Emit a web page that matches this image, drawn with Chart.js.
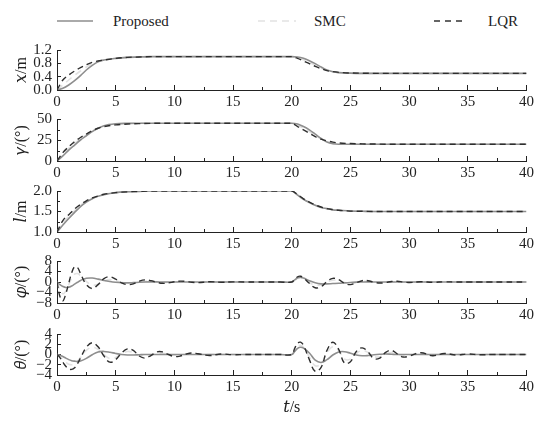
<!DOCTYPE html>
<html>
<head>
<meta charset="utf-8">
<script src="https://cdn.jsdelivr.net/npm/chart.js@4.4.0/dist/chart.umd.min.js"></script>
<style>
  html, body { margin: 0; padding: 0; background: #fff; }
  #wrap { position: relative; width: 542px; height: 428px; overflow: hidden;
          font-family: 'Liberation Serif', 'DejaVu Serif', serif; color: #222; }
  .panel { position: absolute; left: 0; width: 542px; }
  .lg { position: absolute; top: 12px; font-size: 15px; line-height: 18px; }
</style>
</head>
<body>
<div id="wrap">
  <svg width="542" height="40" style="position:absolute;left:0;top:0">
    <line x1="57" y1="21" x2="93" y2="21" stroke="#8e8e8e" stroke-width="1.6"/>
    <line x1="258" y1="21" x2="296" y2="21" stroke="#e2e2e2" stroke-width="1.6" stroke-dasharray="7 5"/>
    <line x1="434" y1="21" x2="462" y2="21" stroke="#333" stroke-width="1.4" stroke-dasharray="6 5"/>
  </svg>
  <span class="lg" style="left:113px">Proposed</span>
  <span class="lg" style="left:314px">SMC</span>
  <span class="lg" style="left:488px">LQR</span>
  <div class="panel" id="d1"><canvas id="c1"></canvas></div>
  <div class="panel" id="d2"><canvas id="c2"></canvas></div>
  <div class="panel" id="d3"><canvas id="c3"></canvas></div>
  <div class="panel" id="d4"><canvas id="c4"></canvas></div>
  <div class="panel" id="d5"><canvas id="c5"></canvas></div>
</div>
<script>
// time samples for the smooth responses (x, gamma, l)
const tSmooth = [0, 0.5, 1, 1.5, 2, 2.5, 3, 3.5, 4, 5, 6, 7, 8, 10, 15, 20,
  20.5, 21, 21.5, 22, 22.5, 23, 23.5, 24, 25, 26, 27, 28, 30, 35, 40];

const xProposed = [0, 0.05, 0.15, 0.28, 0.43, 0.6, 0.74, 0.85, 0.9, 0.95, 0.98, 0.99, 1, 1, 1, 1,
  0.99, 0.95, 0.88, 0.79, 0.69, 0.6, 0.55, 0.52, 0.505, 0.5, 0.5, 0.5, 0.5, 0.5, 0.5];
const xSMC = [0, 0.15, 0.3, 0.44, 0.57, 0.69, 0.79, 0.86, 0.9, 0.95, 0.98, 0.99, 1, 1, 1, 1,
  0.97, 0.91, 0.83, 0.74, 0.66, 0.59, 0.55, 0.52, 0.505, 0.5, 0.5, 0.5, 0.5, 0.5, 0.5];
const xLQR = [0, 0.3, 0.45, 0.57, 0.67, 0.76, 0.83, 0.87, 0.9, 0.95, 0.98, 0.99, 1, 1, 1, 1,
  0.95, 0.87, 0.79, 0.71, 0.64, 0.58, 0.55, 0.53, 0.51, 0.505, 0.5, 0.5, 0.5, 0.5, 0.5];

const gProposed = [0, 6, 13, 19, 25, 30, 35, 39, 42, 44.3, 44.8, 45, 45, 45, 45, 45,
  44, 41, 37, 32, 27, 22.5, 20.5, 20, 20, 20, 20, 20, 20, 20, 20];
const gSMC = [0, 8, 15, 21, 26.5, 31, 35.5, 39, 41.5, 43.8, 44.6, 45, 45, 45, 45, 45,
  42.5, 39, 35, 30.5, 26.5, 23, 21, 20.3, 20.1, 20, 20, 20, 20, 20, 20];
const gLQR = [0, 10, 17, 23, 28, 32, 36, 39, 41, 43, 44, 44.5, 44.8, 45, 45, 45,
  41, 37, 33, 29, 26, 24, 22.5, 21.5, 20.8, 20.4, 20.2, 20, 20, 20, 20];

const lProposed = [1, 1.17, 1.33, 1.48, 1.62, 1.73, 1.81, 1.87, 1.91, 1.96, 1.98, 1.99, 2, 2, 2, 2,
  1.9, 1.8, 1.72, 1.65, 1.6, 1.57, 1.54, 1.53, 1.51, 1.505, 1.5, 1.5, 1.5, 1.5, 1.5];
const lSMC = [1, 1.22, 1.38, 1.52, 1.65, 1.75, 1.82, 1.88, 1.92, 1.96, 1.98, 1.99, 2, 2, 2, 2,
  1.9, 1.8, 1.72, 1.65, 1.6, 1.57, 1.54, 1.53, 1.51, 1.505, 1.5, 1.5, 1.5, 1.5, 1.5];
const lLQR = [1, 1.28, 1.42, 1.56, 1.67, 1.76, 1.83, 1.88, 1.92, 1.96, 1.98, 1.99, 2, 2, 2, 2,
  1.91, 1.81, 1.73, 1.66, 1.61, 1.57, 1.55, 1.53, 1.51, 1.505, 1.5, 1.5, 1.5, 1.5, 1.5];

// time samples for the swing angles (phi, theta)
const tOsc = [0, 0.25, 0.5, 0.75, 1, 1.25, 1.5, 1.75, 2,
  2.5, 3, 3.5, 4, 4.5, 5, 5.5, 6, 6.5, 7, 7.5, 8, 8.5, 9, 9.5, 10, 10.5, 11, 11.5, 12,
  13, 14, 15, 16, 17, 18, 19, 20,
  20.25, 20.5, 20.75, 21,
  21.5, 22, 22.5, 23, 23.5, 24, 24.5, 25, 25.5, 26, 26.5, 27, 27.5, 28, 28.5, 29, 29.5, 30,
  31, 32, 33, 34, 35, 36, 37, 38, 39, 40];

const phiProposed = [0, -1.0, -1.7, -2.1, -2.0, -1.5, -0.8, -0.1, 0.6,
  1.4, 1.5, 1.1, 0.6, 0.2, -0.1, -0.3, -0.35, -0.25, -0.1, 0, 0.05, 0.05, 0, 0, 0, 0, 0, 0, 0,
  0, 0, 0, 0, 0, 0, 0, 0,
  0.8, 1.6, 1.8, 1.5,
  0.5, -0.3, -0.7, -0.7, -0.6, -0.5, -0.35, -0.2, -0.05, 0, 0.05, 0, 0, 0, 0, 0, 0, 0,
  0, 0, 0, 0, 0, 0, 0, 0, 0, 0];
const phiSMC = [0, -3, -4.5, -3.5, -1, 1.5, 3.0, 3.2, 2.4,
  0.2, -1.2, -0.8, 0.4, 0.9, 0.5, -0.1, -0.4, -0.3, 0.1, 0.3, 0.2, 0, -0.15, -0.1, 0, 0.05, 0.05, 0, 0,
  0, 0, 0, 0, 0, 0, 0, 0,
  0.6, 1.3, 1.5, 1.1,
  -0.2, -1.2, -1.0, 0, 0.7, 0.5, -0.2, -0.5, -0.2, 0.2, 0.25, 0, -0.15, -0.1, 0.05, 0.1, 0, 0,
  0, 0, 0, 0, 0, 0, 0, 0, 0, 0];
const phiLQR = [0, -5.5, -7.2, -4.5, -0.5, 3.5, 5.8, 5.5, 3.2,
  -1.0, -2.5, -1.0, 1.3, 2.0, 1.1, -0.3, -1.0, -0.7, 0.3, 0.8, 0.5, -0.1, -0.5, -0.35, 0.1, 0.35, 0.2, -0.1, -0.25,
  0.1, -0.1, 0.05, 0, 0, 0, 0, 0,
  1.0, 2.0, 2.2, 1.6,
  -0.5, -2.2, -1.8, 0.2, 1.4, 0.9, -0.5, -1.0, -0.3, 0.5, 0.5, -0.1, -0.4, -0.2, 0.2, 0.3, 0, -0.2,
  0.1, -0.1, 0.05, 0, 0, 0, 0, 0, 0, 0];

const thetaProposed = [0, -0.15, -0.4, -0.7, -1.0, -1.2, -1.3, -1.35, -1.25,
  -0.75, -0.05, 0.5, 0.6, 0.45, 0.2, 0, -0.1, -0.1, -0.05, 0, 0, 0, 0, 0, 0, 0, 0, 0, 0,
  0, 0, 0, 0, 0, 0, 0, 0,
  0.6, 1.2, 1.4, 1.25,
  0.3, -1.1, -1.55, -1.0, -0.1, 0.5, 0.55, 0.25, -0.1, -0.25, -0.2, -0.05, 0.05, 0.1, 0.05, 0, 0, 0,
  0, 0, 0, 0, 0, 0, 0, 0, 0, 0];
const thetaSMC = [0, -0.4, -1, -1.5, -1.9, -2.0, -1.8, -1.3, -0.6,
  0.8, 1.4, 1.0, 0, -0.8, -0.6, 0.1, 0.6, 0.4, -0.15, -0.4, -0.15, 0.2, 0.25, 0, -0.15, -0.1, 0.05, 0.1, 0.05,
  0, 0, 0, 0, 0, 0, 0, 0,
  0.8, 1.6, 1.8, 1.4,
  -0.5, -2.2, -1.8, 0.3, 1.5, 0.8, -0.9, -0.9, 0.2, 0.8, 0.4, -0.4, -0.45, 0.1, 0.4, 0.1, -0.2, -0.15,
  0.15, -0.1, 0.05, 0, 0, 0, 0, 0, 0, 0];
const thetaLQR = [0, -0.6, -1.5, -2.3, -2.8, -2.9, -2.6, -1.8, -0.7,
  1.4, 2.3, 1.5, -0.3, -1.5, -1.0, 0.3, 1.1, 0.8, -0.3, -0.7, -0.2, 0.5, 0.5, 0, -0.4, -0.3, 0.1, 0.3, 0.15,
  -0.2, 0.1, -0.05, 0, 0, 0, 0, 0,
  1.2, 2.2, 2.4, 1.8,
  -1.0, -3.3, -2.5, 0.8, 2.4, 1.0, -1.7, -1.4, 0.6, 1.3, 0.5, -0.8, -0.7, 0.4, 0.8, 0.1, -0.5, -0.3,
  0.35, -0.25, 0.2, -0.1, 0.1, -0.05, 0, 0, 0, 0];

const minorX = [2.5, 7.5, 12.5, 17.5, 22.5, 27.5, 32.5, 37.5];

const FONT = "'Liberation Serif', 'DejaVu Serif', serif";
const INK = '#222';
Chart.defaults.font.family = FONT;
Chart.defaults.font.size = 15;
Chart.defaults.color = INK;

const minus = v => (v < 0 ? '\u2212' + Math.abs(v) : String(v));

// short in-pointing ticks between the labelled ones
const minorTicks = {
  id: 'minorTicks',
  afterDraw(chart, args, opts) {
    const ctx = chart.ctx, a = chart.chartArea;
    ctx.save();
    ctx.strokeStyle = INK;
    ctx.lineWidth = 1;
    (opts.x || []).forEach(v => {
      const px = Math.round(chart.scales.x.getPixelForValue(v)) + 0.5;
      ctx.beginPath(); ctx.moveTo(px, a.bottom); ctx.lineTo(px, a.bottom - 3); ctx.stroke();
    });
    (opts.y || []).forEach(v => {
      const py = Math.round(chart.scales.y.getPixelForValue(v)) + 0.5;
      ctx.beginPath(); ctx.moveTo(a.left, py); ctx.lineTo(a.left + 3, py); ctx.stroke();
    });
    ctx.restore();
  }
};

const panels = [
  { n: 1, top: 42, bottom: 90, min: 0, max: 1.2, step: 0.4, fmt: v => v.toFixed(1), minorY: [],
    title: '𝑥/m', t: tSmooth, s: [xProposed, xSMC, xLQR], smooth: true },
  { n: 2, top: 111, bottom: 161, min: 0, max: 50, step: 25, fmt: v => String(v), minorY: [12.5, 37.5],
    title: '𝛾/(°)', t: tSmooth, s: [gProposed, gSMC, gLQR], smooth: true },
  { n: 3, top: 183, bottom: 232, min: 1, max: 2, step: 0.5, fmt: v => v.toFixed(1), minorY: [1.25, 1.75],
    title: '𝑙/m', t: tSmooth, s: [lProposed, lSMC, lLQR], smooth: true },
  { n: 4, top: 253, bottom: 303, min: -8, max: 8, step: 4, fmt: minus, minorY: [],
    title: '𝜑/(°)', t: tOsc, s: [phiProposed, phiSMC, phiLQR], smooth: false },
  { n: 5, top: 326, bottom: 375, min: -4, max: 4, step: 2, fmt: minus, minorY: [],
    title: '𝜃/(°)', t: tOsc, s: [thetaProposed, thetaSMC, thetaLQR], smooth: false }
];

panels.forEach(p => {
  const last = p.n === 5;
  const padTop = 10;
  const xh = last ? 428 - p.bottom : 24;
  const box = document.getElementById('d' + p.n);
  box.style.top = (p.top - padTop) + 'px';
  box.style.height = (p.bottom - p.top + padTop + xh) + 'px';

  const pts = arr => p.t.map((t, i) => ({ x: t, y: arr[i] }));
  const common = p.smooth ? { cubicInterpolationMode: 'monotone' } : { tension: 0.4 };

  new Chart(document.getElementById('c' + p.n), {
    type: 'line',
    data: {
      datasets: [
        Object.assign({ label: 'LQR', data: pts(p.s[2]), borderColor: '#2e2e2e', borderWidth: 1.4,
          borderDash: [6, 4], order: 1 }, common),
        Object.assign({ label: 'Proposed', data: pts(p.s[0]), borderColor: '#8e8e8e', borderWidth: 1.6,
          order: 2 }, common),
        Object.assign({ label: 'SMC', data: pts(p.s[1]), borderColor: '#e2e2e2', borderWidth: 1.6,
          borderDash: [7, 5], order: 3 }, common)
      ]
    },
    options: {
      responsive: true,
      maintainAspectRatio: false,
      animation: false,
      events: [],
      layout: { padding: { top: padTop, right: 8, bottom: 0, left: 0 } },
      elements: { point: { radius: 0 } },
      plugins: {
        legend: { display: false },
        tooltip: { enabled: false },
        minorTicks: { x: minorX, y: p.minorY }
      },
      scales: {
        x: {
          type: 'linear', min: 0, max: 40,
          afterFit: s => { s.height = xh; },
          ticks: { stepSize: 5, maxRotation: 0, autoSkip: false, padding: 8, color: INK,
                   font: { family: FONT, size: 15 } },
          grid: { drawOnChartArea: false, tickLength: -5, color: INK },
          border: { color: INK, width: 1 },
          title: { display: last, text: '𝑡/s', font: { family: FONT, size: 16 }, color: INK,
                   padding: { top: 0, bottom: 11 } }
        },
        y: {
          min: p.min, max: p.max,
          afterFit: s => { s.width = 57; },
          ticks: { stepSize: p.step, autoSkip: false, padding: 9, color: INK, callback: p.fmt,
                   font: { family: FONT, size: 15 } },
          grid: { drawOnChartArea: false, tickLength: -4, color: INK },
          border: { color: INK, width: 1 },
          title: { display: true, text: p.title, font: { family: FONT, size: 16 }, color: INK,
                   padding: { top: 12, bottom: 0 } }
        }
      }
    },
    plugins: [minorTicks]
  });
});
</script>
</body>
</html>
